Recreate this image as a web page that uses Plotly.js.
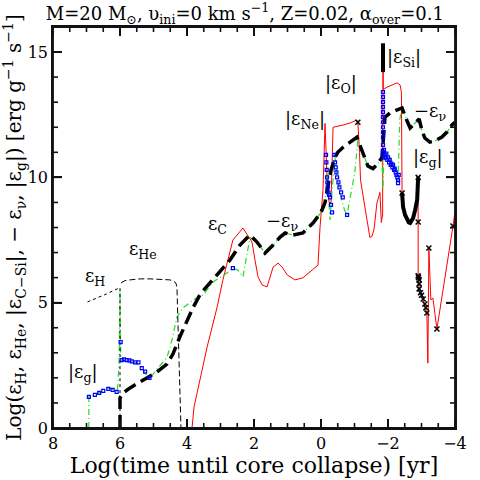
<!DOCTYPE html>
<html>
<head>
<meta charset="utf-8">
<script src="https://cdn.plot.ly/plotly-3.0.1.min.js"></script>
<style>html,body{margin:0;padding:0;background:#fff;}#chart{width:480px;height:480px;}</style>
</head>
<body>
<div id="chart"></div>
<script>
// axis ranges and tick values
const xRange = [8, -4];
const yRange = [0, 16];
const xMajor = [8, 6, 4, 2, 0, -2, -4];
const yMajor = [0, 5, 10, 15];
// epsilon_H (dotted)
const hX = [6.97, 6.8, 6.6, 6.4, 6.2, 6.03, 6.0, 6.0];
const hY = [5.03, 5.12, 5.22, 5.35, 5.48, 5.6, 5.6, 0];
// epsilon_He (thin dashed)
const heX = [5.97, 5.85, 5.7, 5.4, 5.1, 4.8, 4.51, 4.40, 4.33, 4.30, 4.24, 4.18];
const heY = [5.79, 5.88, 5.91, 5.95, 5.95, 5.94, 5.91, 5.86, 5.78, 5.6, 3.1, 0];
// -epsilon_nu (thick black long dash)
const nuX = [6.0, 6.0, 5.91, 5.7, 5.2, 4.9, 4.6, 4.42, 4.21, 4.0, 3.82, 3.6, 3.3, 3.0, 2.72, 2.42, 2.2, 2.12, 1.91, 1.67, 1.43, 1.22, 1.07, 0.84, 0.54, 0.24, 0.0, -0.12, -0.2, -0.3, -0.42, -0.5, -0.66, -0.87, -1.07, -1.10, -1.25, -1.40, -1.55, -1.70, -1.82, -1.88, -1.91, -2.06, -2.27, -2.42, -2.57, -2.66, -2.75, -2.93, -3.01, -3.10, -3.25, -3.40, -3.61, -3.76, -3.91, -4.0];
const nuY = [0, 1.2, 1.40, 1.6, 2.0, 2.23, 2.55, 2.95, 3.65, 4.3, 4.8, 5.35, 5.8, 6.3, 6.7, 7.3, 7.6, 7.7, 7.42, 6.98, 7.30, 7.62, 7.78, 7.70, 7.78, 8.18, 8.6, 9.0, 9.6, 10.3, 10.8, 11.0, 11.2, 11.4, 11.6, 11.5, 11.0, 10.45, 10.35, 10.55, 10.8, 11.8, 12.4, 12.57, 12.69, 12.77, 12.25, 11.97, 12.09, 12.33, 11.89, 11.57, 11.41, 11.45, 11.61, 11.81, 12.09, 12.2];
// |epsilon_C-Si| (red)
const csX = [3.85, 3.79, 3.40, 3.10, 2.93, 2.63, 2.33, 2.06, 1.97, 1.88, 1.76, 1.61, 1.43, 1.28, 1.16, 1.01, 0.78, 0.54, 0.09, 0.03, -0.06, -0.12, -0.18, -0.24, -0.30, -0.36, -0.66, -0.87, -1.07, -1.10, -1.15, -1.18, -1.30, -1.40, -1.46, -1.52, -1.58, -1.67, -1.76, -1.80, -1.84, -1.85, -1.86, -1.97, -2.15, -2.27, -2.36, -2.40, -2.42, -2.45, -2.57, -2.66, -2.75, -2.87, -2.90, -2.90, -2.93, -3.05, -3.16, -3.19, -3.22, -3.28, -3.34, -3.46, -3.94, -4.0];
const csY = [0, 0.84, 3.23, 4.83, 5.9, 7.5, 7.98, 7.42, 6.70, 6.03, 5.71, 5.63, 6.42, 6.58, 6.42, 6.11, 5.91, 5.99, 6.5, 8.0, 9.5, 12.15, 10.0, 9.0, 9.0, 12.0, 12.09, 12.17, 12.29, 12.2, 11.0, 9.9, 8.9, 8.0, 7.6, 7.65, 7.9, 8.98, 9.4, 8.2, 8.5, 15.3, 13.5, 13.6, 13.69, 13.77, 13.69, 13.4, 9.4, 8.82, 8.3, 8.18, 8.38, 9.1, 10.0, 6.07, 5.55, 5.1, 4.59, 2.59, 7.18, 5.11, 5.19, 3.95, 8.06, 8.62];
// |epsilon_Si| thick spike
const siX = [-1.85, -1.85];
const siY = [14.2, 15.35];
// |epsilon_g| (green dash-dot)
const gX = [6.93, 6.93, 6.7, 6.55, 6.45, 6.3, 6.2, 6.08, 6.03, 6.0, 5.98, 5.97, 5.8, 5.6, 5.5, 5.35, 5.2, 5.1, 4.9, 4.6, 4.45, 4.3, 4.12, 3.82, 3.52, 3.22, 2.81, 2.63, 2.48, 2.33, 2.12, 1.91, 1.67, 1.43, 1.22, 1.07, 0.84, 0.54, 0.24, 0.0, -0.12, -0.18, -0.22, -0.27, -0.33, -0.42, -0.48, -0.6, -0.7, -0.78, -0.87, -1.01, -1.10, -1.25, -1.40, -1.55, -1.70, -1.82, -1.85, -1.87, -1.95, -2.1, -2.25, -2.30, -2.35, -2.42, -2.57, -2.66, -2.75, -2.93, -3.01, -3.10, -3.25, -3.40, -3.61, -3.76, -3.91, -4.0];
const gY = [0, 1.24, 1.36, 1.44, 1.56, 1.60, 1.52, 1.44, 2.5, 5.5, 3.0, 2.71, 2.7, 2.63, 2.59, 2.39, 2.1, 1.99, 2.35, 2.8, 3.5, 4.43, 4.79, 5.11, 5.31, 5.83, 6.18, 6.38, 6.30, 6.03, 7.6, 7.42, 6.98, 7.30, 7.62, 7.78, 7.70, 7.78, 8.18, 8.6, 9.0, 10.2, 9.4, 8.3, 9.5, 10.8, 10.0, 9.2, 8.7, 8.5, 9.2, 10.2, 11.5, 11.0, 10.45, 10.35, 10.55, 10.8, 9.5, 10.6, 11.0, 10.7, 10.3, 9.8, 12.3, 12.77, 12.25, 11.97, 12.09, 12.33, 11.89, 11.57, 11.41, 11.45, 11.61, 11.81, 12.09, 12.2];
// |epsilon_g| blue points
const bX = [6.93, 6.75, 6.62, 6.5, 6.35, 6.22, 6.1, 5.98, 5.95, 5.88, 5.8, 5.72, 5.65, 5.55, 5.45, 5.35, 5.25, 5.12, 2.63,
  -0.15, -0.16, -0.17, -0.18, -0.19, -0.2, -0.22, -0.24, -0.27, -0.30, -0.33,
  -0.40, -0.42, -0.44, -0.46, -0.48, -0.52, -0.55, -0.6, -0.65, -0.78,
  -1.85, -1.85, -1.85, -1.85, -1.85, -1.85, -1.85, -1.85, -1.85, -1.85, -1.85, -1.85, -1.86, -1.88, -1.9, -1.93, -1.95, -1.98, -2.0, -2.03, -2.05, -2.08, -2.1, -2.13, -2.15, -2.18, -2.2, -2.23, -2.25, -2.28, -2.3, -2.3, -2.32];
const bY = [1.24, 1.32, 1.40, 1.48, 1.56, 1.52, 1.44, 3.43, 2.71, 2.74, 2.71, 2.70, 2.66, 2.62, 2.62, 2.39, 2.25, 2.0, 6.38,
  10.9, 10.6, 10.3, 10.0, 9.8, 9.6, 9.4, 9.3, 9.2, 8.9, 8.6,
  10.9, 10.6, 10.4, 10.2, 10.0, 9.8, 9.6, 9.4, 9.2, 8.5,
  13.4, 13.2, 13.0, 12.8, 12.6, 12.4, 12.2, 12.0, 11.8, 11.6, 11.3, 11.0, 10.8, 11.1, 10.9, 10.8, 10.95, 10.7, 10.8, 10.6, 10.7, 10.5, 10.55, 10.4, 10.5, 10.3, 10.35, 10.2, 10.1, 10.0, 9.9, 9.77, 10.1];
// black U curve (|epsilon_g| late)
const uX = [-2.42, -2.45, -2.51, -2.57, -2.62, -2.66, -2.70, -2.75, -2.81, -2.87, -2.90];
const uY = [9.38, 8.82, 8.5, 8.3, 8.2, 8.18, 8.25, 8.38, 8.7, 9.1, 10.0];
// black x markers
const xmX = [-1.10, -2.42, -2.90, -2.90, -2.90, -2.91, -2.93, -2.93, -2.93, -2.97, -3.0, -3.05, -3.1, -3.13, -3.16];
const xmY = [12.2, 9.38, 10.0, 8.22, 6.07, 6.0, 5.91, 5.75, 5.55, 5.4, 5.3, 5.15, 4.95, 4.8, 4.59];
const xsX = [-3.22, -3.46, -3.94];
const xsY = [7.18, 3.95, 8.06];

// geometry of the plot area (px)
const ML = 53, MR = 25, MT = 27, MB = 52, W = 480, H = 480;
const pw = W - ML - MR, ph = H - MT - MB;
const xPerPx = Math.abs(xRange[1] - xRange[0]) / pw;
const yPerPx = Math.abs(yRange[1] - yRange[0]) / ph;
const xDir = Math.sign(xRange[1] - xRange[0]);
const TC = '#111';

// frame and inward tick marks on all four sides, built from the axis ranges
const frameX = [xRange[0], xRange[1], xRange[1], xRange[0], xRange[0]];
const frameY = [yRange[0], yRange[0], yRange[1], yRange[1], yRange[0]];
const tickX = [], tickY = [];
for (let v = xRange[0]; v >= xRange[1] - 1e-9; v -= 0.5) {
  const L = (xMajor.indexOf(v) >= 0 ? 9 : 5) * yPerPx;
  tickX.push(v, v, null, v, v, null);
  tickY.push(yRange[0], yRange[0] + L, null, yRange[1], yRange[1] - L, null);
}
for (let v = yRange[0]; v <= yRange[1]; v += 1) {
  const L = (yMajor.indexOf(v) >= 0 ? 9 : 5) * xPerPx * xDir;
  tickX.push(xRange[0], xRange[0] + L, null, xRange[1], xRange[1] - L, null);
  tickY.push(v, v, null, v, v, null);
}

const traces = [
  {x: csX, y: csY, mode: 'lines', line: {color: '#ff0000', width: 1}},
  {x: gX, y: gY, mode: 'lines', line: {color: '#22dd22', width: 1.2, dash: '6px,3px,1px,3px'}},
  {x: nuX, y: nuY, mode: 'lines', line: {color: '#000', width: 3.5, dash: '13px,6px'}},
  {x: hX, y: hY, mode: 'lines', line: {color: '#000', width: 1, dash: 'dot'}},
  {x: heX, y: heY, mode: 'lines', line: {color: '#000', width: 1, dash: '6px,3px'}},
  {x: siX, y: siY, mode: 'lines', line: {color: '#000', width: 4}},
  {x: bX, y: bY, mode: 'markers', marker: {symbol: 'square-open', size: 3, color: '#0000ff', line: {width: 1.2, color: '#0000ff'}}},
  {x: uX, y: uY, mode: 'lines', line: {color: '#000', width: 4}},
  {x: xmX, y: xmY, mode: 'markers', marker: {symbol: 'x-thin-open', size: 5, color: '#000', line: {width: 1.5, color: '#000'}}},
  {x: xsX, y: xsY, mode: 'markers', marker: {symbol: 'x-thin-open', size: 5, color: '#000', line: {width: 1.5, color: '#000'}}},
  {x: tickX, y: tickY, mode: 'lines', cliponaxis: false, connectgaps: false, line: {color: TC, width: 1.6}},
  {x: frameX, y: frameY, mode: 'lines', cliponaxis: false, line: {color: TC, width: 1.8}}
];

const F = 'DejaVu Serif, Liberation Serif, serif';
function lab(x, y, t) {
  return {x: x, y: y, xref: 'x', yref: 'y', text: t, showarrow: false, font: {family: F, size: 18, color: '#000'}};
}
const annotations = [
  lab(6.75, 6.03, 'ε<sub>H</sub>'),
  lab(5.31, 7.10, 'ε<sub>He</sub>'),
  lab(7.10, 2.19, '|ε<sub>g</sub>|'),
  lab(3.10, 8.10, 'ε<sub>C</sub>'),
  lab(1.16, 8.22, '−ε<sub>ν</sub>'),
  lab(0.48, 12.29, '|ε<sub>Ne</sub>|'),
  lab(-0.60, 13.73, '|ε<sub>O</sub>|'),
  lab(-2.48, 14.76, '|ε<sub>Si</sub>|'),
  lab(-3.25, 12.61, '−ε<sub>ν</sub>'),
  lab(-3.19, 10.77, '|ε<sub>g</sub>|')
];

const layout = {
  width: W, height: H,
  margin: {l: ML, r: MR, t: MT, b: MB},
  paper_bgcolor: '#fff', plot_bgcolor: '#fff',
  showlegend: false,
  title: {text: 'M=20 M<sub>⊙</sub>, υ<sub>ini</sub>=0 km s<sup>−1</sup>, Z=0.02, α<sub>over</sub>=0.1', font: {family: F, size: 18, color: '#000'}, x: 0.51, xanchor: 'center', y: 0.972, yanchor: 'middle'},
  xaxis: {
    range: xRange, tickvals: xMajor, showgrid: false, zeroline: false,
    showline: true, linecolor: TC, linewidth: 1.5, mirror: 'allticks',
    ticks: 'inside', ticklen: 9, tickwidth: 1.5, tickcolor: TC,
    tickfont: {family: F, size: 16, color: '#000'},
    title: {text: 'Log(time until core collapse) [yr]', font: {family: F, size: 22, color: '#000'}, standoff: 0}
  },
  yaxis: {
    range: yRange, tickvals: yMajor, showgrid: false, zeroline: false,
    showline: true, linecolor: TC, linewidth: 1.5, mirror: 'allticks',
    ticks: 'inside', ticklen: 9, tickwidth: 1.5, tickcolor: TC,
    tickfont: {family: F, size: 16, color: '#000'},
    title: {text: 'Log(ε<sub>H</sub>, ε<sub>He</sub>, |ε<sub>C−Si</sub>|, − ε<sub>ν</sub>, |ε<sub>g</sub>|) [erg g<sup>−1</sup> s<sup>−1</sup>]', font: {family: F, size: 20, color: '#000'}, standoff: 0}
  },
  annotations: annotations
};
Plotly.newPlot('chart', traces, layout, {displayModeBar: false});
</script>
</body>
</html>
